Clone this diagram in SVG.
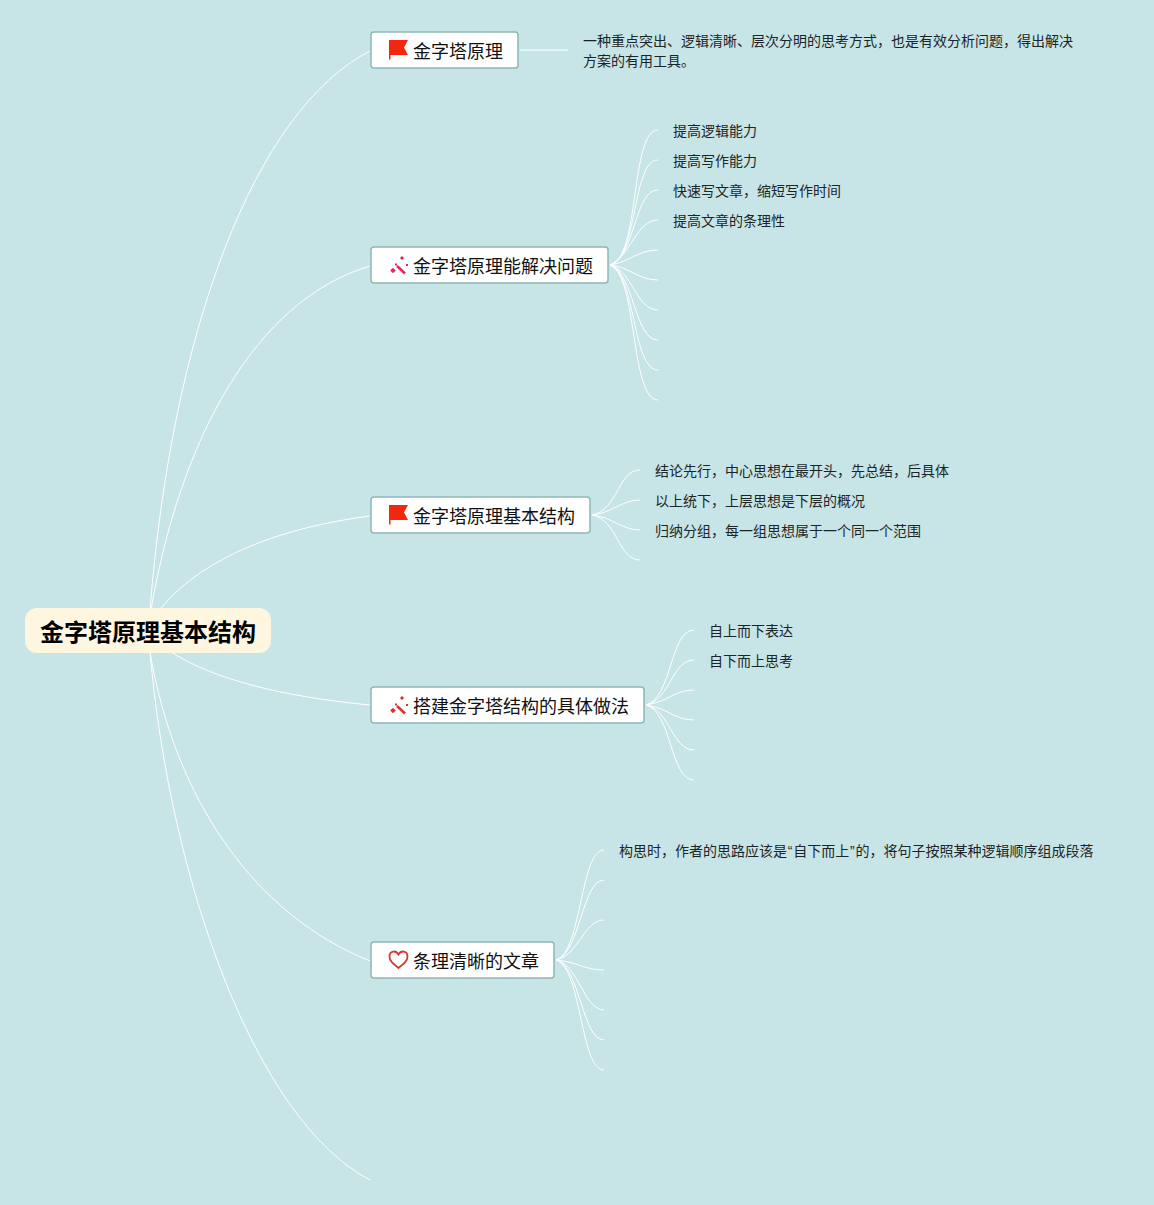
<svg xmlns="http://www.w3.org/2000/svg" width="1154" height="1205" viewBox="0 0 1154 1205">
<style>
text{font-family:"Noto Sans CJK SC","Noto Sans",sans-serif;fill:#111}
.box{fill:#fff;stroke:#8fb8b4;stroke-width:1.5}
.t{font-size:18px}
.l{font-size:14px;fill:#1c2526}
.q{font-family:"Liberation Sans",sans-serif}
.r{font-size:24px;font-weight:700;fill:#000}
#connectors path{fill:none;stroke:#fff;stroke-width:1}
</style>
<defs>
<g id="flag"><path d="M0 0H19L15 7.500L19 15H1.500V19.500H0Z" fill="#f3270d"/></g>
<g id="wand"><path d="M7 10L15 17.500" stroke-width="2.500" fill="none" stroke="currentColor"/><rect x="1" y="12.500" width="4" height="4" transform="rotate(45 3 14.500)" fill="currentColor"/><rect x="5" y="7.500" width="2" height="2" fill="currentColor"/><rect x="10.500" y="0.500" width="3" height="3" transform="rotate(45 12 2)" fill="currentColor"/><rect x="16" y="8" width="2" height="2" fill="currentColor"/></g>
</defs>
<rect width="1154" height="1205" fill="#c7e4e6"/>
<g id="connectors">
<path d="M150 610C172 330 255 110 370 51"/>
<path d="M151 610C180 440 255 300 370 266"/>
<path d="M161 608C205 555 285 527 370 516"/>
<path d="M171 652C215 680 285 697 370 705"/>
<path d="M150 652C175 800 255 915 370 961"/>
<path d="M150 652C170 880 255 1120 370 1180"/>
<path d="M520 50H568"/>
<path d="M610 265C640 260 630 130 658 130"/>
<path d="M610 265C638 258 632 160 658 160"/>
<path d="M610 265C636 256 634 190 658 190"/>
<path d="M610 265C632 255 636 220 658 220"/>
<path d="M610 265C630 262 638 250 658 250"/>
<path d="M610 265C630 267 638 280 658 280"/>
<path d="M610 265C632 270 636 310 658 310"/>
<path d="M610 265C634 272 634 340 658 340"/>
<path d="M610 265C636 274 632 370 658 370"/>
<path d="M610 265C638 276 630 400 658 400"/>
<path d="M592 515C618 510 618 470 640 470"/>
<path d="M592 515C612 513 622 500 640 500"/>
<path d="M592 515C612 517 622 530 640 530"/>
<path d="M592 515C618 520 618 560 640 560"/>
<path d="M646 705C672 698 670 630 694 630"/>
<path d="M646 705C670 700 672 660 694 660"/>
<path d="M646 705C668 702 674 690 694 690"/>
<path d="M646 705C668 708 674 720 694 720"/>
<path d="M646 705C670 710 672 750 694 750"/>
<path d="M646 705C672 712 670 780 694 780"/>
<path d="M556 960C582 952 580 850 604 850"/>
<path d="M556 960C580 954 582 880 604 880"/>
<path d="M556 960C578 956 584 920 604 920"/>
<path d="M556 960C578 962 584 970 604 970"/>
<path d="M556 960C578 964 584 1010 604 1010"/>
<path d="M556 960C580 966 582 1040 604 1040"/>
<path d="M556 960C582 968 580 1070 604 1070"/>
</g>
<g id="root"><rect x="25" y="608" width="246" height="45" rx="12" fill="#fff6e0"/><text class="r" x="40" y="640.500">金字塔原理基本结构</text></g>
<g id="n1"><rect class="box" x="371" y="32" width="147" height="36" rx="3"/><use href="#flag" x="389" y="40"/><text class="t" x="413" y="57.500">金字塔原理</text></g>
<g id="n2"><rect class="box" x="371" y="247" width="237" height="36" rx="3"/><use href="#wand" x="390" y="256" color="#e8265e"/><text class="t" x="413" y="272.500">金字塔原理能解决问题</text></g>
<g id="n3"><rect class="box" x="371" y="497" width="219" height="36" rx="3"/><use href="#flag" x="389" y="505"/><text class="t" x="413" y="522.500">金字塔原理基本结构</text></g>
<g id="n4"><rect class="box" x="371" y="687" width="273" height="36" rx="3"/><use href="#wand" x="390" y="696" color="#d9342b"/><text class="t" x="413" y="712.500">搭建金字塔结构的具体做法</text></g>
<g id="n5"><rect class="box" x="371" y="942" width="183" height="36" rx="3"/><path d="M398.500 968C393 963.500 389.500 961 389.500 956.500C389.500 950.500 396 950 398.500 954.500C401 950 407.500 950.500 407.500 956.500C407.500 961 404 963.500 398.500 968Z" fill="none" stroke="#d43c32" stroke-width="1.800"/><text class="t" x="413" y="967.500">条理清晰的文章</text></g>
<g id="leaf1"><text class="l" x="583" y="46">一种重点突出、逻辑清晰、层次分明的思考方式，也是有效分析问题，得出解决</text><text class="l" x="583" y="66">方案的有用工具。</text></g>
<g id="leaf2"><text class="l" x="673" y="136">提高逻辑能力</text></g>
<g id="leaf3"><text class="l" x="673" y="166">提高写作能力</text></g>
<g id="leaf4"><text class="l" x="673" y="196">快速写文章，缩短写作时间</text></g>
<g id="leaf5"><text class="l" x="673" y="226">提高文章的条理性</text></g>
<g id="leaf6"><text class="l" x="655" y="476">结论先行，中心思想在最开头，先总结，后具体</text></g>
<g id="leaf7"><text class="l" x="655" y="506">以上统下，上层思想是下层的概况</text></g>
<g id="leaf8"><text class="l" x="655" y="536">归纳分组，每一组思想属于一个同一个范围</text></g>
<g id="leaf9"><text class="l" x="709" y="636">自上而下表达</text></g>
<g id="leaf10"><text class="l" x="709" y="666">自下而上思考</text></g>
<g id="leaf11"><text class="l" x="619" y="856">构思时，作者的思路应该是<tspan class="q" dx="0.800">“</tspan><tspan dx="0.800">自</tspan>下而上<tspan class="q" dx="0.800">”</tspan><tspan dx="0.800">的</tspan>，将句子按照某种逻辑顺序组成段落</text></g>
</svg>
